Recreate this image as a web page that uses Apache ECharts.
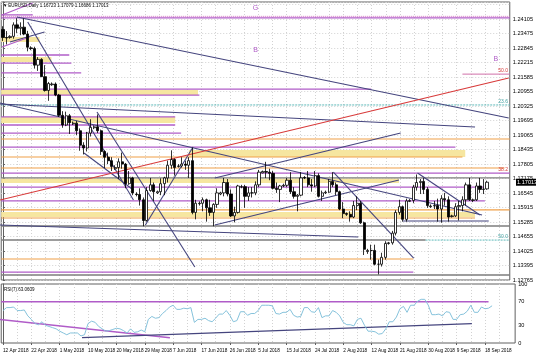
<!DOCTYPE html>
<html><head><meta charset="utf-8">
<script src="https://cdn.jsdelivr.net/npm/echarts@6/dist/echarts.min.js"></script>
<style>html,body{margin:0;padding:0;background:#fff}#c{width:536px;height:358px}</style>
</head><body><div id="c"></div>
<script>
// ---------------- DATA ----------------
const symbolTitle = 'EURUSD,Daily';
const tickLabels = ['12 Apr 2018','22 Apr 2018','1 May 2018','10 May 2018','20 May 2018','29 May 2018','7 Jun 2018','17 Jun 2018','26 Jun 2018','5 Jul 2018','15 Jul 2018','24 Jul 2018','2 Aug 2018','12 Aug 2018','21 Aug 2018','30 Aug 2018','9 Sep 2018','18 Sep 2018'];
const priceTicks = {min:1.12765, step:0.0063, top:1.24105};
const rsiTicks = [0,30,70,100];
// [open, close, low, high]
const ohlc = [
[1.2365,1.2330,1.2315,1.2379],[1.2330,1.2328,1.2300,1.2358],[1.2330,1.2335,1.2325,1.2340],[1.2335,1.2385,1.2325,1.2396],
[1.2385,1.2370,1.2350,1.2414],[1.2370,1.2375,1.2340,1.2396],[1.2375,1.2345,1.2340,1.2413],[1.2345,1.2288,1.2270,1.2359],
[1.2285,1.2282,1.2275,1.2292],[1.2282,1.2210,1.2195,1.2290],[1.2210,1.2235,1.2185,1.2245],[1.2235,1.2160,1.2160,1.2240],
[1.2160,1.2100,1.2095,1.2210],[1.2100,1.2130,1.2055,1.2137],[1.2125,1.2128,1.2120,1.2135],[1.2128,1.2080,1.2075,1.2135],
[1.2080,1.1992,1.1985,1.2085],[1.1992,1.1950,1.1938,1.2010],[1.1950,1.1990,1.1945,1.2008],[1.1990,1.1960,1.1911,1.1998],
[1.1955,1.1958,1.1950,1.1965],[1.1958,1.1925,1.1906,1.1968],[1.1925,1.1862,1.1838,1.1935],[1.1862,1.1850,1.1822,1.1875],
[1.1850,1.1915,1.1835,1.1920],[1.1915,1.1940,1.1900,1.1975],[1.1938,1.1942,1.1932,1.1948],[1.1942,1.1925,1.1915,1.1996],
[1.1925,1.1835,1.1820,1.1930],[1.1835,1.1810,1.1763,1.1840],[1.1810,1.1795,1.1780,1.1830],[1.1795,1.1770,1.1750,1.1810],
[1.1760,1.1765,1.1755,1.1775],[1.1765,1.1790,1.1716,1.1805],[1.1790,1.1780,1.1760,1.1830],[1.1780,1.1695,1.1675,1.1785],
[1.1695,1.1720,1.1690,1.1750],[1.1720,1.1655,1.1645,1.1725],[1.1650,1.1648,1.1640,1.1658],[1.1648,1.1625,1.1600,1.1675],
[1.1625,1.1535,1.1510,1.1635],[1.1535,1.1665,1.1530,1.1680],[1.1665,1.1690,1.1660,1.1720],[1.1690,1.1660,1.1620,1.1700],
[1.1655,1.1660,1.1650,1.1665],[1.1660,1.1695,1.1645,1.1718],[1.1695,1.1720,1.1645,1.1725],[1.1720,1.1775,1.1700,1.1795],
[1.1775,1.1800,1.1760,1.1840],[1.1800,1.1765,1.1730,1.1805],[1.1770,1.1772,1.1765,1.1780],[1.1772,1.1780,1.1765,1.1810],
[1.1780,1.1775,1.1755,1.1795],[1.1775,1.1795,1.1720,1.1810],[1.1795,1.1570,1.1562,1.1852],[1.1570,1.1610,1.1540,1.1625],
[1.1608,1.1610,1.1600,1.1618],[1.1610,1.1625,1.1575,1.1635],[1.1625,1.1590,1.1530,1.1630],[1.1590,1.1570,1.1555,1.1625],
[1.1570,1.1605,1.1510,1.1610],[1.1605,1.1655,1.1590,1.1675],[1.1650,1.1655,1.1645,1.1660],[1.1655,1.1700,1.1640,1.1720],
[1.1700,1.1650,1.1640,1.1715],[1.1650,1.1555,1.1550,1.1670],[1.1555,1.1570,1.1527,1.1595],[1.1570,1.1685,1.1565,1.1690],
[1.1680,1.1682,1.1675,1.1690],[1.1682,1.1640,1.1590,1.1690],[1.1640,1.1655,1.1620,1.1680],[1.1655,1.1655,1.1635,1.1680],
[1.1655,1.1690,1.1645,1.1705],[1.1690,1.1745,1.1680,1.1755],[1.1742,1.1748,1.1740,1.1752],[1.1748,1.1745,1.1720,1.1790],
[1.1745,1.1740,1.1710,1.1760],[1.1740,1.1675,1.1670,1.1750],[1.1675,1.1670,1.1655,1.1700],[1.1670,1.1685,1.1615,1.1690],
[1.1685,1.1688,1.1680,1.1695],[1.1688,1.1710,1.1680,1.1720],[1.1710,1.1660,1.1650,1.1745],[1.1660,1.1640,1.1630,1.1680],
[1.1640,1.1645,1.1575,1.1650],[1.1645,1.1720,1.1640,1.1745],[1.1722,1.1720,1.1715,1.1728],[1.1720,1.1690,1.1680,1.1750],
[1.1690,1.1685,1.1660,1.1715],[1.1685,1.1730,1.1680,1.1750],[1.1730,1.1640,1.1635,1.1740],[1.1640,1.1655,1.1620,1.1665],
[1.1655,1.1658,1.1650,1.1665],[1.1658,1.1705,1.1655,1.1715],[1.1705,1.1690,1.1680,1.1745],[1.1690,1.1660,1.1645,1.1700],
[1.1660,1.1585,1.1580,1.1665],[1.1585,1.1565,1.1545,1.1615],[1.1565,1.1562,1.1555,1.1570],[1.1562,1.1550,1.1530,1.1575],
[1.1550,1.1600,1.1545,1.1620],[1.1600,1.1610,1.1580,1.1640],[1.1610,1.1525,1.1520,1.1620],[1.1525,1.1410,1.1385,1.1530],
[1.1400,1.1405,1.1390,1.1412],[1.1405,1.1405,1.1365,1.1430],[1.1405,1.1345,1.1340,1.1430],[1.1345,1.1345,1.1301,1.1365],
[1.1345,1.1375,1.1335,1.1395],[1.1375,1.1435,1.1365,1.1445],[1.1435,1.1438,1.1430,1.1442],[1.1438,1.1480,1.1430,1.1490],
[1.1480,1.1570,1.1470,1.1580],[1.1570,1.1595,1.1560,1.1625],[1.1595,1.1540,1.1530,1.1600],[1.1540,1.1620,1.1530,1.1630],
[1.1618,1.1622,1.1615,1.1628],[1.1622,1.1680,1.1610,1.1690],[1.1680,1.1700,1.1665,1.1735],[1.1700,1.1705,1.1650,1.1715],
[1.1705,1.1670,1.1650,1.1720],[1.1670,1.1600,1.1590,1.1680],[1.1595,1.1598,1.1590,1.1605],[1.1598,1.1600,1.1585,1.1620],
[1.1600,1.1585,1.1530,1.1630],[1.1585,1.1630,1.1525,1.1645],[1.1630,1.1625,1.1600,1.1655],[1.1625,1.1550,1.1530,1.1640],
[1.1552,1.1555,1.1548,1.1560],[1.1555,1.1595,1.1550,1.1610],[1.1595,1.1600,1.1535,1.1620],[1.1600,1.1625,1.1575,1.1640],
[1.1625,1.1690,1.1600,1.1700],[1.1690,1.1625,1.1620,1.1720],[1.1622,1.1625,1.1615,1.1630],[1.1625,1.1685,1.1620,1.1700],
[1.1685,1.1670,1.1655,1.1720],[1.1670,1.1672,1.1650,1.1715],[1.16723,1.17013,1.16686,1.17079]
];
const rsiValues = [
55,60,60,61,55,55,56,46,40,33,31,36,30,28,26,24,20,17,14,17,
17,17,12,14,33,37,35,28,24,20,21,23,25,24,21,17,24,18,19,22,
19,40,45,42,43,50,55,61,64,57,57,59,58,60,35,40,40,42,38,36,
42,49,49,55,47,36,38,53,53,47,50,50,55,64,64,64,63,50,49,52,
52,57,47,44,45,60,60,53,52,60,43,46,46,55,52,46,35,31,31,29,
40,42,30,20,20,19,15,16,24,36,36,44,58,62,52,64,64,71,74,74,
64,48,48,49,46,53,52,40,40,48,49,54,64,52,52,61,58,59,63.0609
];
// horizontal levels: [price, end bar]
const purpleLevels = [[1.2415,144.5],[1.2428,8.5],[1.2254,18.9],[1.2219,19.5],[1.2176,22.3],[1.2106,105],[1.2080,56],[1.1985,49.1],[1.1950,49.1],[1.1915,50.8],[1.1854,129],[1.1741,144.5],[1.1680,137],[1.1620,137.4],[1.1311,117]];
const pinkDotted = [[1.2422,144.5]];
const orangeLevels = [[1.1889,144.5],[1.1811,131],[1.1763,143],[1.1581,144.5],[1.1546,134.6],[1.1368,117]];
const grayLevels = [[1.1720,144.5],[1.1511,144.5],[1.1450,120.5],[1.1298,144.5]];
const tealLevels = [[1.2037,-0.5,144.5],[1.1450,120.5,144.5]];
const pinkSegments = [[1.2171,131,144.5]];
// bands: [upper price, lower price, start bar, end bar]
const yellowBands = [[1.2332,1.2311,-0.5,10.4],[1.2245,1.2224,-0.5,13.8],[1.2102,1.2080,-0.5,55.6],[1.1985,1.1959,-0.5,49.1],[1.1841,1.1811,53,131.8],[1.1718,1.1698,-0.5,112.9],[1.1572,1.1550,-0.5,134.6]];
// trend lines: [bar1, price1, bar2, price2]
const navyLines = [[3.95,1.24192,144.2,1.19803],[-0.85,1.20455,136.6,1.15589],[26.8,1.20064,54.7,1.13329],[40.6,1.15154,54.2,1.18543],
  [7.05,1.23975,37.2,1.16241],[60.4,1.15154,112.9,1.17110],[60.4,1.17196,113.4,1.19152],[94.2,1.17457,117.1,1.13720],
  [118.2,1.17414,136,1.15589],[-0.85,1.15154,101.3,1.14633],[23.1,1.18283,37.2,1.16675],[1.98,1.23106,11.85,1.23540],
  [-0.85,1.20412,134.6,1.19413],[114,1.1533,138.5,1.1533]];
const purpleDiag = [[-0.28,1.24279,8.46,1.24800],[-0.28,1.22888,7.6,1.23323]];
const redLines = [[-0.85,1.16241,144.2,1.21541]];
const rsiPurple = [[-0.5,70,137,70],[-0.85,40,47.1,9]];
const rsiNavy = [[22.3,9,132.3,33]];
// text marks: [bar, price, text]
const purpleTexts = [[72,1.24583,'G'],[72,1.22758,'B'],[140.5,1.22367,'B']];
const redTexts = [[142.6,1.21846,'50.0'],[142.6,1.17544,'38.2']];
const tealTexts = [[142.6,1.20499,'23.6'],[142.6,1.14633,'50.0']];

// ---------------- CHART ----------------
const FONT = "'Liberation Sans Narrow','Liberation Sans',Arial,sans-serif";
const N = 145;
const cats = Array.from({length:N}, (_, i) => String(i));
const GL = 1.23, GW = 513.9;
const mainTop = 2, mainH = 278;
const pxPerUnit = 2301.6;
const yMax = priceTicks.min + mainH / pxPerUnit;
const GRID = '#d2d2d2';
const dot = [1,2];

const series = [];
function seg(arr, color, width, xi, yi, type, z) {
  arr.forEach(s => series.push({type:'line', xAxisIndex:xi, yAxisIndex:yi, data:[[s[0],s[1]],[s[2],s[3]]],
    symbol:'none', silent:true, z:z||3, lineStyle:{color, width, type:type||'solid'}, animation:false}));
}
function hlevels(arr, color, width, type, z) {
  arr.forEach(l => series.push({type:'line', xAxisIndex:2, yAxisIndex:0, data:[[-0.5,l[0]],[l[1],l[0]]],
    symbol:'none', silent:true, z:z||2, lineStyle:{color, width, type:type||'solid'}, animation:false}));
}
function hsegs(arr, color, width, type, z) {
  arr.forEach(l => series.push({type:'line', xAxisIndex:2, yAxisIndex:0, data:[[l[1],l[0]],[l[2],l[0]]],
    symbol:'none', silent:true, z:z||2, lineStyle:{color, width, type:type||'solid'}, animation:false}));
}
series.push({type:'line', xAxisIndex:2, yAxisIndex:0, data:[], silent:true, z:1,
  markArea:{silent:true, itemStyle:{color:'#f6e6a0'}, data: yellowBands.map(b => [{coord:[b[2],b[0]]},{coord:[b[3],b[1]]}])}});
hlevels(purpleLevels, '#b05cc8', 1.3);
hlevels(pinkDotted, '#d070c0', 1, [1,1]);
hlevels(orangeLevels, '#f0a048', 1.1);
hlevels(grayLevels, '#7c7c7c', 1.4);
hsegs(tealLevels, '#5cb8b8', 1, [2,1]);
hsegs(pinkSegments, '#d070a8', 1);
seg(navyLines, '#45457e', 1.1, 2, 0);
seg(purpleDiag, '#b05cc8', 1.2, 2, 0);
seg(redLines, '#d83a3a', 1.2, 2, 0);
seg(rsiPurple, '#b05cc8', 1.5, 3, 1);
seg(rsiNavy, '#45457e', 1.2, 3, 1);

series.push({type:'candlestick', xAxisIndex:0, yAxisIndex:0, data:ohlc, barWidth:2.7, z:6, animation:false,
  itemStyle:{color:'#ffffff', color0:'#000000', borderColor:'#000000', borderColor0:'#000000', borderWidth:0.8}});
series.push({type:'line', xAxisIndex:1, yAxisIndex:1, data:rsiValues, symbol:'none', z:4, animation:false,
  lineStyle:{color:'#86c3dc', width:1}});

function textSeries(arr, color, size) {
  series.push({type:'scatter', xAxisIndex:2, yAxisIndex:0, data:arr, symbol:'circle', symbolSize:1,
    itemStyle:{color:'rgba(0,0,0,0)'}, z:7, silent:true,
    label:{show:true, position:'inside', formatter:p => p.data[2], color, fontSize:size, fontFamily:FONT, opacity:1}});
}
textSeries(purpleTexts, '#b05cc8', 7);
textSeries(redTexts, '#d83a3a', 5);
textSeries(tealTexts, '#40a0a0', 5);

const axisLineStyle = {show:true, lineStyle:{color:'#606060', width:1}};
const labelIv = (i) => i % 8 === 0 && i / 8 < tickLabels.length;
const option = {
  backgroundColor:'#ffffff',
  animation:false,
  grid:[
    {left:GL, top:mainTop, width:GW, height:mainH, show:true, borderColor:'#606060', borderWidth:1},
    {left:GL, top:284, width:GW, height:59, show:true, borderColor:'#606060', borderWidth:1},
    {left:3, top:mainTop, width:3.544*140, height:mainH},
    {left:3, top:284, width:3.544*140, height:59}
  ],
  xAxis:[
    {type:'category', gridIndex:0, data:cats, axisLabel:{show:false}, axisTick:{show:false}, axisLine:{show:false}, splitLine:{show:false}},
    {type:'category', gridIndex:1, data:cats, axisLine:{show:false}, splitLine:{show:false},
      axisTick:{show:true, alignWithLabel:true, length:2, interval:labelIv, lineStyle:{color:'#606060'}},
      axisLabel:{show:true, interval:labelIv, showMinLabel:true, hideOverlap:false, formatter:(v,i)=> tickLabels[i/8] || '',
        align:'left', fontSize:4.7, fontFamily:FONT, color:'#000', margin:5}},
    {type:'value', gridIndex:0, min:-0.5, max:N-0.5, show:false},
    {type:'value', gridIndex:1, min:-0.5, max:N-0.5, show:false},
    {type:'value', gridIndex:2, min:0, max:140, interval:4, axisLine:{show:false}, axisTick:{show:false}, axisLabel:{show:false},
      splitLine:{show:true, lineStyle:{color:GRID, width:1, type:dot}}},
    {type:'value', gridIndex:3, min:0, max:140, interval:4, axisLine:{show:false}, axisTick:{show:false}, axisLabel:{show:false},
      splitLine:{show:true, lineStyle:{color:GRID, width:1, type:dot}}}
  ],
  yAxis:[
    {type:'value', gridIndex:0, position:'right', min:priceTicks.min, max:yMax, interval:priceTicks.step,
      axisLine:axisLineStyle, axisTick:{show:true, length:2, lineStyle:{color:'#606060'}},
      axisLabel:{fontSize:5.6, fontFamily:FONT, color:'#000', margin:3, formatter:v => v > priceTicks.top + 0.001 ? '' : v.toFixed(5)},
      splitLine:{show:true, lineStyle:{color:GRID, width:1, type:dot}}},
    {type:'value', gridIndex:1, position:'right', min:0, max:100, interval:10,
      axisLine:axisLineStyle, axisTick:{show:false},
      axisLabel:{fontSize:5.6, fontFamily:FONT, color:'#000', margin:3, formatter:v => rsiTicks.includes(v) ? String(v) : ''},
      splitLine:{show:false}},
    {type:'value', gridIndex:2, show:false, min:0, max:1},
    {type:'value', gridIndex:3, show:false, min:0, max:1}
  ],
  series
};
const chart = echarts.init(document.getElementById('c'), null, {renderer:'canvas'});
chart.setOption(option);
const last = ohlc[ohlc.length-1];
const yLast = chart.convertToPixel({yAxisIndex:0}, last[1]);
chart.setOption({graphic:[
  {type:'text', left:4, top:3, z:20, style:{text:'\u25BE ' + symbolTitle + ' ' + last[0].toFixed(5) + ' ' + last[3].toFixed(5) + ' ' + last[2].toFixed(5) + ' ' + last[1].toFixed(5), font:'4.5px ' + FONT, fill:'#000'}},
  {type:'text', left:4, top:287, z:20, style:{text:'RSI(7) ' + rsiValues[rsiValues.length-1].toFixed(4), font:'4.5px ' + FONT, fill:'#000'}},
  {type:'rect', shape:{x:516, y:yLast-3.5, width:20, height:7}, style:{fill:'#000'}, z:20},
  {type:'text', x:517, y:yLast-3, z:21, style:{text:last[1].toFixed(5), font:'5.6px ' + FONT, fill:'#fff'}}
]});
</script></body></html>
